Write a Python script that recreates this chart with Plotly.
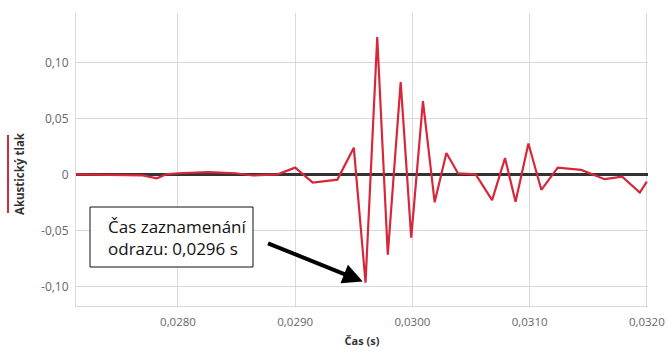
import plotly.graph_objects as go

# Time (s) and acoustic pressure values
cas = [0.02713, 0.02770, 0.02782, 0.02790, 0.02800, 0.02826, 0.02849, 0.02864, 0.02885,
       0.02900, 0.02915, 0.02936, 0.02950, 0.02960, 0.02970, 0.02979, 0.02990, 0.02999,
       0.03009, 0.03019, 0.03029, 0.03039, 0.03054, 0.03068, 0.03079, 0.03088, 0.03099,
       0.03110, 0.03124, 0.03144, 0.03164, 0.03179, 0.03194, 0.03200]
tlak = [0.0, -0.001, -0.0035, 0.0, 0.001, 0.002, 0.001, -0.001, 0.0,
        0.006, -0.0074, -0.0047, 0.0238, -0.0967, 0.1226, -0.0717, 0.0824, -0.0565,
        0.0654, -0.025, 0.019, 0.0008, 0.0, -0.023, 0.0145, -0.0245, 0.0275,
        -0.0138, 0.006, 0.004, -0.0043, -0.002, -0.0163, -0.0065]

x_ticks = [0.0280, 0.0290, 0.0300, 0.0310, 0.0320]
x_ticktext = ["0,0280", "0,0290", "0,0300", "0,0310", "0,0320"]
y_ticks = [0.10, 0.05, 0.0, -0.05, -0.10]
y_ticktext = ["0,10", "0,05", "0", "-0,05", "-0,10"]

peak_t = 0.0296
peak_p = -0.0967

RED = "#d7283b"
FONT = "Open Sans, Noto Sans, sans-serif"

# plot area in pixels: 572 x 293
PW, PH = 572.0, 293.0

fig = go.Figure()
fig.add_trace(go.Scatter(x=cas, y=tlak, mode="lines",
                         line=dict(color=RED, width=2.2), name="Akustický tlak",
                         showlegend=False))

fig.update_layout(
    width=668, height=351,
    margin=dict(l=76, r=20, t=13, b=45),
    plot_bgcolor="white", paper_bgcolor="white",
    font=dict(family=FONT, color="#666666", size=12),
    xaxis=dict(range=[0.02713, 0.03201], tickvals=x_ticks, ticktext=x_ticktext,
               showgrid=True, gridcolor="#d9d9d9", gridwidth=1,
               showline=True, linecolor="#d9d9d9", linewidth=1, mirror=False,
               zeroline=False, ticks="", tickfont=dict(size=11.5, color="#666666"),
               ticklabelstandoff=5, automargin=False, ticklabeloverflow="allow",
               title=dict(text="<b>Čas (s)</b>", font=dict(size=11, color="#333333"),
                          standoff=9)),
    yaxis=dict(range=[-0.1175, 0.144], tickvals=y_ticks, ticktext=y_ticktext,
               showgrid=True, gridcolor="#d9d9d9", gridwidth=1,
               showline=True, linecolor="#d9d9d9", linewidth=1,
               zeroline=True, zerolinecolor="#333333", zerolinewidth=2.5,
               ticks="", tickfont=dict(size=12, color="#666666"), ticklabelstandoff=4,
               automargin=False),
)

# legend-like vertical label on the left
fig.add_shape(type="line", xref="paper", yref="paper",
              x0=(8 - 76) / PW, x1=(8 - 76) / PW, y0=(306 - 135) / PH, y1=(306 - 213) / PH,
              line=dict(color=RED, width=2))
fig.add_annotation(xref="paper", yref="paper", x=(19 - 76) / PW, y=(306 - 174) / PH,
                   text="<b>Akustický tlak</b>", textangle=-90, showarrow=False,
                   font=dict(size=11.5, color="#333333", family=FONT),
                   xanchor="center", yanchor="middle")

# text box
fig.add_shape(type="rect", xref="paper", yref="paper",
              x0=(90 - 76) / PW, x1=(253 - 76) / PW, y0=(306 - 207) / PH, y1=(306 - 267) / PH,
              line=dict(color="#111111", width=1), fillcolor="white", layer="above")
fig.add_annotation(xref="paper", yref="paper", x=(106 - 76) / PW, y=(306 - 237) / PH,
                   xanchor="left", yanchor="middle", showarrow=False,
                   text="Čas zaznamenání<br>odrazu: 0,0296 s", align="left",
                   font=dict(size=17, color="#111111", family=FONT))

# arrow pointing to the recorded reflection
fig.add_annotation(x=peak_t, y=peak_p, xref="x", yref="y", text="",
                   showarrow=True, arrowhead=2, arrowsize=1, arrowwidth=4,
                   arrowcolor="#000000", ax=-99, ay=-40, standoff=3)

fig.write_html(
    "out.html",
    config={"displayModeBar": False},
    post_script="document.body.style.margin='0';"
                "document.documentElement.style.overflow='hidden';"
                "document.body.style.overflow='hidden';",
)
